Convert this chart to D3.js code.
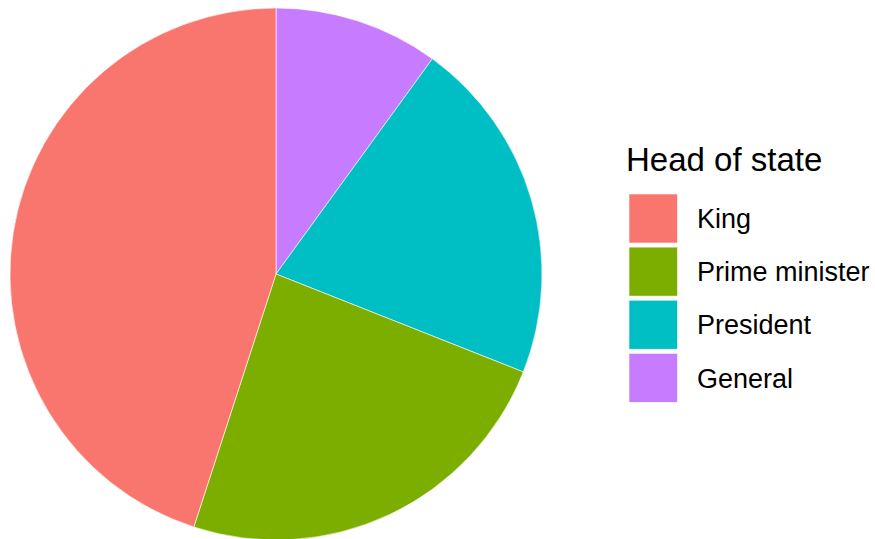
<!DOCTYPE html>
<html>
<head>
<meta charset="utf-8">
<script src="https://cdn.jsdelivr.net/npm/d3@7"></script>
<style>
html, body { margin: 0; padding: 0; background: #fff; }
svg { display: block; }
</style>
</head>
<body>
<svg id="chart" width="875" height="539"></svg>
<script>
const categories = ["King", "Prime minister", "President", "General"];
const values = [45, 24, 21, 10];
const colors = ["#F8766D", "#7CAE00", "#00BFC4", "#C77CFF"];
const legendTitle = "Head of state";

const svg = d3.select("#chart");
const cx = 276, cy = 274, radius = 266;

const data = categories.map((c, i) => ({ cat: c, value: values[i] }));
const color = d3.scaleOrdinal().domain(categories).range(colors);

// ggplot stacks so that the last level starts at 12 o'clock, clockwise
const pie = d3.pie().sort(null).value(d => d.value);
const arcs = pie(data.slice().reverse());
const arc = d3.arc().innerRadius(0).outerRadius(radius);

svg.append("g")
  .attr("transform", `translate(${cx},${cy})`)
  .selectAll("path")
  .data(arcs)
  .join("path")
  .attr("d", arc)
  .attr("fill", d => color(d.data.cat))
  .attr("stroke", "#ffffff")
  .attr("stroke-width", 0.6);

// Legend
const lg = svg.append("g").attr("font-family", "'Liberation Sans', Arial, Helvetica, sans-serif");
lg.append("text")
  .attr("x", 626)
  .attr("y", 171)
  .attr("font-size", 33)
  .attr("fill", "#000")
  .text(legendTitle);

const keyY = d3.scaleBand().domain(categories).range([194, 194 + 53.1 * categories.length]).padding(0);
const keySize = 49;
const items = lg.selectAll("g.item").data(categories).join("g").attr("class", "item");
items.append("rect")
  .attr("x", 629)
  .attr("y", d => keyY(d))
  .attr("width", 48.5)
  .attr("height", keySize)
  .attr("fill", d => color(d))
  .attr("stroke", "#ffffff")
  .attr("stroke-width", 0.6);
items.append("text")
  .attr("x", 697)
  .attr("y", d => keyY(d) + keySize / 2 + 9.7)
  .attr("font-size", 27)
  .attr("fill", "#000")
  .text(d => d);
</script>
</body>
</html>
